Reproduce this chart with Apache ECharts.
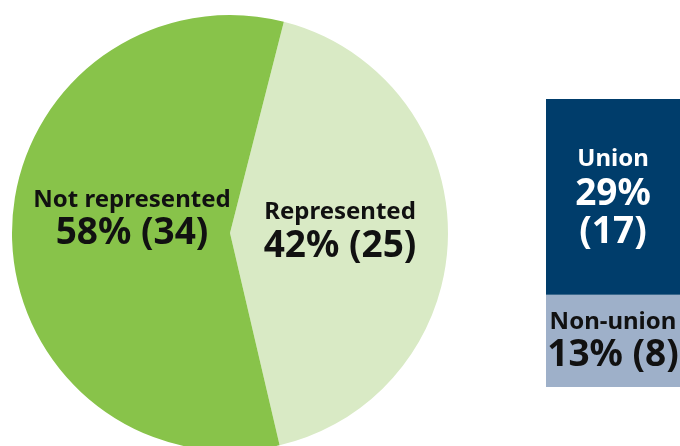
<!DOCTYPE html>
<html>
<head>
<meta charset="utf-8">
<script src="https://cdn.jsdelivr.net/npm/echarts@6/dist/echarts.min.js"></script>
<style>
  html, body { margin: 0; padding: 0; background: #fff; }
  #chart { width: 680px; height: 446px; }
</style>
</head>
<body>
<div id="chart"></div>
<script>
// Representation split (counts and rounded shares)
const pieNames = ['Represented', 'Not represented'];
const pieCounts = [25, 34];
const pieShares = [42, 58];

// Breakdown of the represented group, bottom to top
const barNames = ['Non-union', 'Union'];
const barCounts = [8, 17];
const barShares = [13, 29];

const FONT = 'Noto Sans';
const chart = echarts.init(document.getElementById('chart'));

const pieColors = ['#d9eac5', '#88c34a'];
const barColors = ['#9eb0c9', '#003d6b'];
const barText = ['#111', '#fff'];

function barLabel(i) {
  // Union gets its figures stacked on separate lines
  const parts = i === 1
    ? ['{a|' + barNames[i] + '}', '{b|' + barShares[i] + '%}', '{b|(' + barCounts[i] + ')}']
    : ['{a|' + barNames[i] + '}', '{b|' + barShares[i] + '% (' + barCounts[i] + ')}'];
  return parts.join('\n');
}

chart.setOption({
  animation: false,
  grid: { left: 546, width: 138, top: 99, bottom: 59 },
  xAxis: { type: 'category', data: ['Represented'], show: false },
  yAxis: { type: 'value', min: 0, max: 25, show: false },
  series: [
    {
      type: 'pie',
      center: [230, 233],
      radius: [0, 218],
      startAngle: 75.7,
      clockwise: true,
      silent: true,
      data: pieNames.map((n, i) => ({
        name: n,
        value: pieCounts[i],
        itemStyle: { color: pieColors[i] }
      })),
      label: {
        show: true,
        position: 'inside',
        formatter: p => '{a|' + p.name + '}\n{b|' + pieShares[p.dataIndex] + '% (' + p.value + ')}',
        rich: {
          a: { fontFamily: FONT, fontWeight: 'bold', fontSize: 24, lineHeight: 28, color: '#111' },
          b: { fontFamily: FONT, fontWeight: 'bold', fontSize: 37, lineHeight: 40, color: '#111' }
        }
      },
      labelLine: { show: false },
      labelLayout: p => p.dataIndex === 1 ? { dx: 14, dy: -12 } : { dx: -2, dy: -2 }
    }
  ].concat(barNames.map((n, i) => ({
    type: 'bar',
    stack: 'rep',
    barWidth: '100%',
    silent: true,
    name: n,
    data: [barCounts[i]],
    itemStyle: { color: barColors[i] },
    label: {
      show: true,
      position: 'inside',
      formatter: () => barLabel(i),
      rich: {
        a: { fontFamily: FONT, fontWeight: 'bold', fontSize: 24, lineHeight: i === 1 ? 34 : 30, color: barText[i] },
        b: { fontFamily: FONT, fontWeight: 'bold', fontSize: 37, lineHeight: 38, color: barText[i] }
      }
    }
  })))
});
</script>
</body>
</html>
